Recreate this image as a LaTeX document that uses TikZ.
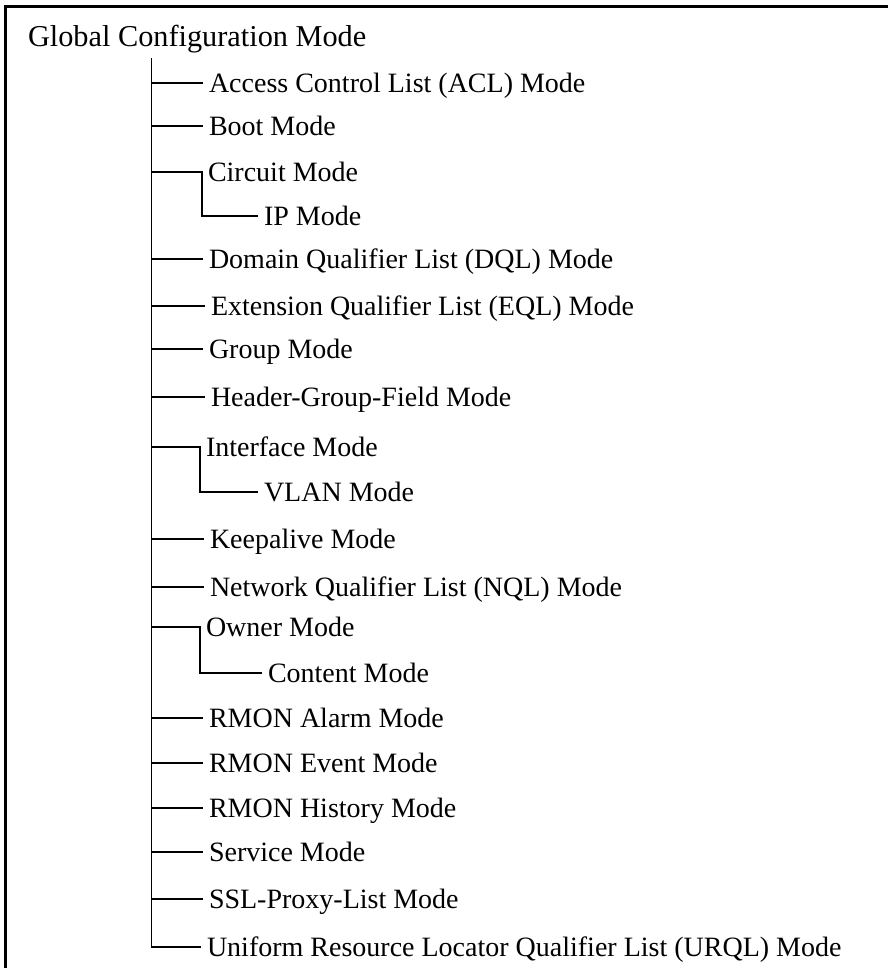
\documentclass[tikz,border=0pt]{standalone}
\usepackage{fontspec}
\setmainfont{Liberation Serif}
\begin{document}
\begin{tikzpicture}[x=1pt,y=-1pt,
  item/.style={anchor=west,inner xsep=6pt,inner ysep=0pt,outer sep=0pt,
    text height=18.4pt,text depth=0pt,font=\fontsize{28}{33}\selectfont},
  toplabel/.style={anchor=west,inner sep=0pt,outer sep=0pt,
    text height=20pt,text depth=0pt,font=\fontsize{30.3}{36}\selectfont},
  branch/.style={line width=2pt},
  trunkline/.style={line width=1.3pt},
  frameline/.style={line width=3pt}]
\useasboundingbox (0,0) rectangle (888,968);
\draw[frameline] (5.5,968) -- (5.5,7) -- (888,7);
\node[toplabel] (gcm) at (28,37) {Global Configuration Mode};
\coordinate (trunk) at (151.7,58);
\node[item] (acl) at (203,83) {Access Control List (ACL) Mode};
\node[item] (boot) at (203,126) {Boot Mode};
\node[item] (circ) at (202,172) {Circuit Mode};
\node[item] (ip) at (258,216) {IP Mode};
\node[item] (dql) at (203,259) {Domain Qualifier List (DQL) Mode};
\node[item] (eql) at (205,306) {Extension Qualifier List (EQL) Mode};
\node[item] (grp) at (203,349) {Group Mode};
\node[item] (hgf) at (205,397) {Header-Group-Field Mode};
\node[item] (intf) at (200,447) {Interface Mode};
\node[item] (vlan) at (258,492) {VLAN Mode};
\node[item] (keep) at (204,539) {Keepalive Mode};
\node[item] (nql) at (204,587) {Network Qualifier List (NQL) Mode};
\node[item] (own) at (200,627) {Owner Mode};
\node[item] (cont) at (262,673) {Content Mode};
\node[item] (ralarm) at (203,718) {RMON Alarm Mode};
\node[item] (revent) at (203,763) {RMON Event Mode};
\node[item] (rhist) at (203,808) {RMON History Mode};
\node[item] (serv) at (203,852) {Service Mode};
\node[item] (ssl) at (203,899) {SSL-Proxy-List Mode};
\node[item] (urql) at (201,947) {Uniform Resource Locator Qualifier List (URQL) Mode};
\draw[trunkline] (trunk) |- (urql.west);
\foreach \n in {acl,boot,dql,eql,grp,hgf,keep,nql,ralarm,revent,rhist,serv,ssl}
  \draw[branch] (trunk |- \n.west) -- (\n.west);
\draw[branch] (trunk |- circ.west) -- (circ.west) |- (ip.west);
\draw[branch] (trunk |- intf.west) -- (intf.west) |- (vlan.west);
\draw[branch] (trunk |- own.west) -- (own.west) |- (cont.west);
\end{tikzpicture}
\end{document}
